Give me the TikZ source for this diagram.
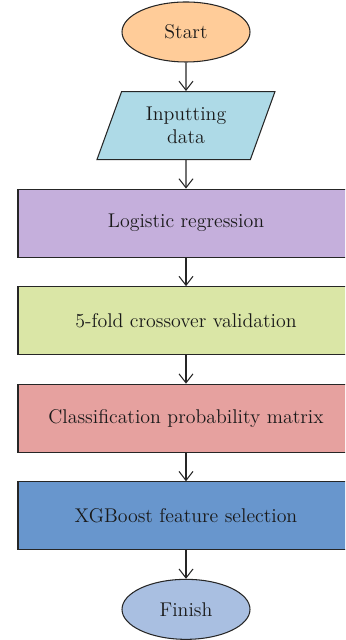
\documentclass[tikz,border=0pt]{standalone}
\usepackage{xcolor}
\usetikzlibrary{shapes.geometric,arrows.meta,positioning}

\definecolor{startorange}{HTML}{FFCC99}
\definecolor{inputblue}{HTML}{AEDAE7}
\definecolor{logpurple}{HTML}{C5AFDC}
\definecolor{foldgreen}{HTML}{DAE6A6}
\definecolor{probred}{HTML}{E6A19F}
\definecolor{xgbblue}{HTML}{6896CD}
\definecolor{finishblue}{HTML}{A9BFE1}

\begin{document}
\begin{tikzpicture}[
    node distance = 0.57cm,
    base/.style = {draw=black!85, line width=0.6pt, align=center, text=black!90, font=\fontsize{11.3}{13}\selectfont},
    terminal/.style = {base, ellipse, minimum width=2.56cm, minimum height=1.2cm},
    io_block/.style = {base, trapezium, trapezium left angle=63, trapezium right angle=117, trapezium stretches body, minimum height=1.36cm, minimum width=3.56cm},
    step_block/.style = {base, rectangle, minimum width=6.72cm, minimum height=1.36cm},
    arrow/.style = {line width=0.6pt, black!85, -{Straight Barb[length=1.8mm, width=2.8mm]}}
]
\clip (0,0) rectangle (6.9,-12.8);

% Terminals and steps
\node [terminal, fill=startorange] (start) at (3.72,-0.64) {Start};
\node [io_block, fill=inputblue, below=of start] (input) {Inputting\\data};
\node [step_block, fill=logpurple, below=of input] (logreg) {Logistic regression};
\node [step_block, fill=foldgreen, below=of logreg] (cv) {5-fold crossover validation};
\node [step_block, fill=probred, below=of cv] (probmat) {Classification probability matrix};
\node [step_block, fill=xgbblue, below=of probmat] (xgbsel) {XGBoost feature selection};
\node [terminal, fill=finishblue, below=of xgbsel] (finish) {Finish};

% Arrows
\draw [arrow] (start) -- (input);
\draw [arrow] (input) -- (logreg);
\draw [arrow] (logreg) -- (cv);
\draw [arrow] (cv) -- (probmat);
\draw [arrow] (probmat) -- (xgbsel);
\draw [arrow] (xgbsel) -- (finish);

\end{tikzpicture}
\end{document}
